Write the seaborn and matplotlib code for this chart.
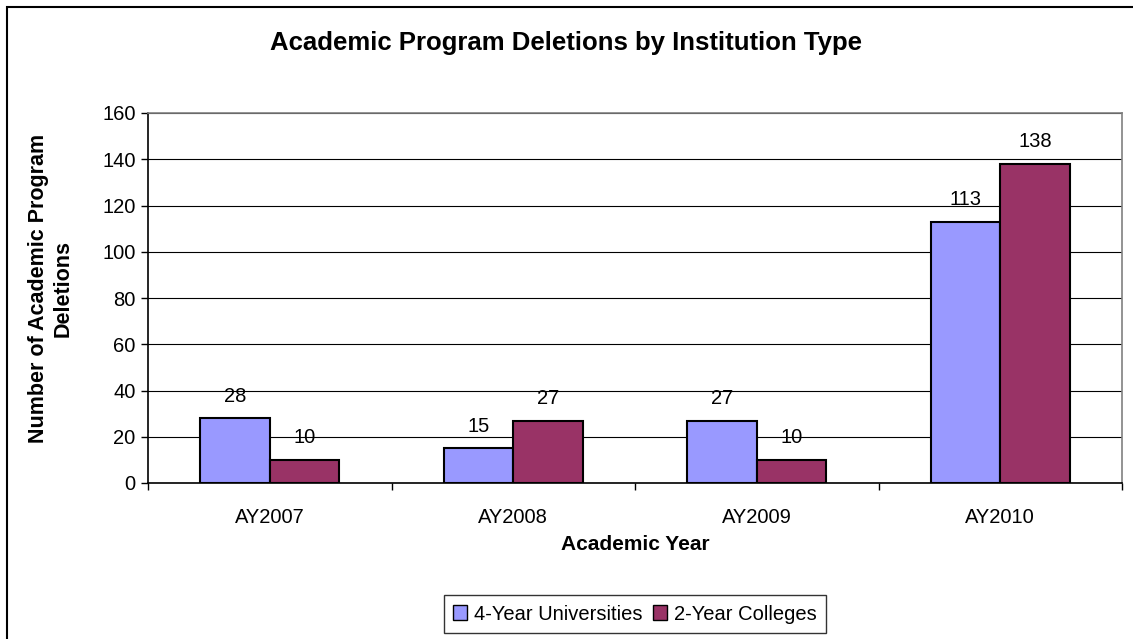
import matplotlib
matplotlib.use("Agg")
import matplotlib.pyplot as plt
import seaborn as sns
import pandas as pd
from matplotlib.patches import Rectangle

# ---------- DATA ----------
years = ["AY2007", "AY2008", "AY2009", "AY2010"]
universities = [28, 15, 27, 113]
colleges = [10, 27, 10, 138]
series_names = ["4-Year Universities", "2-Year Colleges"]
colors = ["#9999FF", "#993366"]

df = pd.DataFrame({
    "year": years * 2,
    "count": universities + colleges,
    "type": [series_names[0]] * len(years) + [series_names[1]] * len(years),
})

# ---------- STYLE ----------
sns.set_theme(style="white")
plt.rcParams["font.family"] = ["Liberation Sans", "DejaVu Sans"]
plt.rcParams["text.color"] = "black"

W, H = 1133, 639
fig = plt.figure(figsize=(W / 100, H / 100), dpi=100)
ax = fig.add_axes([148 / W, 1 - 483 / H, (1122 - 148) / W, (483 - 113) / H])

sns.barplot(
    data=df, x="year", y="count", hue="type",
    palette=colors, saturation=1, width=0.57,
    edgecolor="black", linewidth=1.5, ax=ax,
)

# value labels
for cont in ax.containers:
    ax.bar_label(cont, padding=9, fontsize=14.5, color="black")

# axes
ax.set_ylim(0, 160)
ax.set_yticks(range(0, 161, 20))
ax.set_xlim(-0.5, len(years) - 0.5)
ax.set_xticks(range(len(years)))
ax.set_xticks([i - 0.5 for i in range(len(years) + 1)], minor=True)
ax.tick_params(axis="x", which="major", length=0, pad=18, labelsize=14.5, colors="black")
ax.tick_params(axis="x", which="minor", length=5, width=1, direction="out", color="black", bottom=True)
ax.tick_params(axis="y", length=5, width=1, direction="out", left=True, labelsize=14.5, colors="black", pad=4)

ax.yaxis.grid(True, color="black", linewidth=0.8)
ax.set_axisbelow(True)

for side in ["left", "bottom"]:
    ax.spines[side].set_color("black")
    ax.spines[side].set_linewidth(1.2)
for side in ["top", "right"]:
    ax.spines[side].set_color("#808080")
    ax.spines[side].set_linewidth(1.2)

ax.set_xlabel("")
ax.set_ylabel("")

fig.text(0.5, 1 - 43 / H, "Academic Program Deletions by Institution Type",
         ha="center", va="center", fontsize=18.5, fontweight="bold", color="black")
fig.text(635 / W, 1 - 544 / H, "Academic Year",
         ha="center", va="center", fontsize=15, fontweight="bold", color="black")
fig.text(51 / W, 1 - 288 / H, "Number of Academic Program\nDeletions",
         ha="center", va="center", rotation=90, fontsize=15.5,
         fontweight="bold", linespacing=1.25, color="black")

# legend
sns.move_legend(
    ax, "center", bbox_to_anchor=(0.5, (483 - 614) / (483 - 113)),
    ncol=2, title=None, frameon=True, fontsize=14.5,
    handlelength=0.7, handleheight=0.7, handletextpad=0.35,
    columnspacing=0.5, borderpad=0.45, fancybox=False,
)
leg = ax.get_legend()
leg.get_frame().set_edgecolor("black")
leg.get_frame().set_linewidth(1)
for t in leg.get_texts():
    t.set_color("black")
for h in leg.legend_handles:
    h.set_edgecolor("black")
    h.set_linewidth(1)

# chart border
fig.patches.append(Rectangle((7 / W, -0.1), 1.2, 1 - 7 / H + 0.1,
                             transform=fig.transFigure, fill=False,
                             edgecolor="black", linewidth=1.5))

fig.savefig("out.png", dpi=100)
print("Chart saved!")
